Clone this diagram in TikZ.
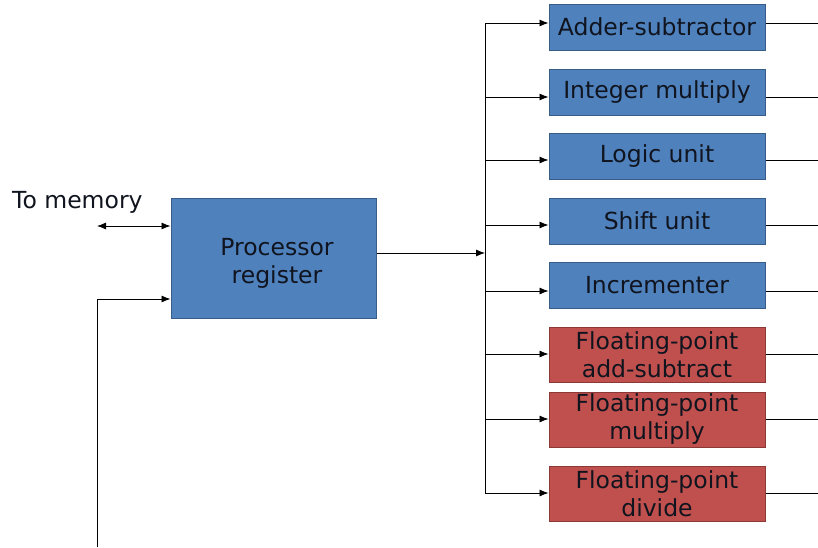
\documentclass[tikz,border=0pt]{standalone}
\usepackage{fontspec}
\setmainfont{DejaVu Sans}
\usetikzlibrary{arrows.meta}
\definecolor{bluefill}{HTML}{4F81BD}
\definecolor{blueedge}{HTML}{385D8A}
\definecolor{redfill}{HTML}{C0504D}
\definecolor{rededge}{HTML}{8C3836}
\definecolor{txt}{HTML}{10141E}
\begin{document}
\begin{tikzpicture}[x=1pt,y=-1pt,
  lbl/.style={font=\fontsize{23.5}{28}\selectfont,text=txt},
  bbox/.style={lbl,draw=blueedge,fill=bluefill,line width=1pt,inner sep=0pt,align=center},
  rbox/.style={lbl,draw=rededge,fill=redfill,line width=1pt,inner sep=0pt,align=center},
  wire/.style={line width=0.8pt,black},
  arr/.style={wire,-{Latex[length=9pt,width=7pt]}},
  darr/.style={wire,{Latex[length=9pt,width=7pt]}-{Latex[length=9pt,width=7pt]}}]
\useasboundingbox (0,0) rectangle (818,547);
% processor register
\node[bbox,minimum width=205pt,minimum height=120pt] (pr) at (273.5,258) {};
\node[lbl,align=center,inner sep=0pt] (prtext) at (277,263) {Processor\\register};
\node[lbl,anchor=base west,inner sep=0pt] (mem) at (12,208) {To memory};
\coordinate (memend) at (97,226);
\draw[darr] (memend) -- (memend -| pr.west);
\coordinate (fbstart) at (97,547);
\coordinate (fbcorner) at (97,299);
\draw[arr] (fbstart) -- (fbcorner) -- (fbcorner -| pr.west);
% units
\def\ux{657}
\node[bbox,minimum width=216pt,minimum height=46pt] (u1) at (\ux,27) {Adder-subtractor};
\node[bbox,minimum width=216pt,minimum height=46pt] (u2) at (\ux,92) {Integer multiply};
\node[bbox,minimum width=216pt,minimum height=46pt] (u3) at (\ux,156) {Logic unit};
\node[bbox,minimum width=216pt,minimum height=46pt] (u4) at (\ux,221) {Shift unit};
\node[bbox,minimum width=216pt,minimum height=46pt] (u5) at (\ux,285) {Incrementer};
\node[rbox,minimum width=216pt,minimum height=55pt] (u6) at (\ux,354.5) {Floating-point\\add-subtract};
\node[rbox,minimum width=216pt,minimum height=55pt] (u7) at (\ux,419.5) {Floating-point\\multiply};
\node[rbox,minimum width=216pt,minimum height=55pt] (u8) at (\ux,493.5) {Floating-point\\divide};
% bus
\coordinate (bustop) at (485,23);
\coordinate (busbot) at (485,493);
\coordinate (busin) at (485,253);
\draw[wire] (bustop) -- (busbot);
\draw[arr] (pr.east |- busin) -- (busin);
\foreach \i/\y in {1/23,2/97,3/160,4/225,5/291,6/354,7/419,8/493}{
  \coordinate (b\i) at (485,\y);
  \coordinate (o\i) at (818,\y);
  \draw[arr] (b\i) -- (b\i -| u\i.west);
  \draw[wire] (b\i -| u\i.east) -- (o\i);
}
\end{tikzpicture}
\end{document}
